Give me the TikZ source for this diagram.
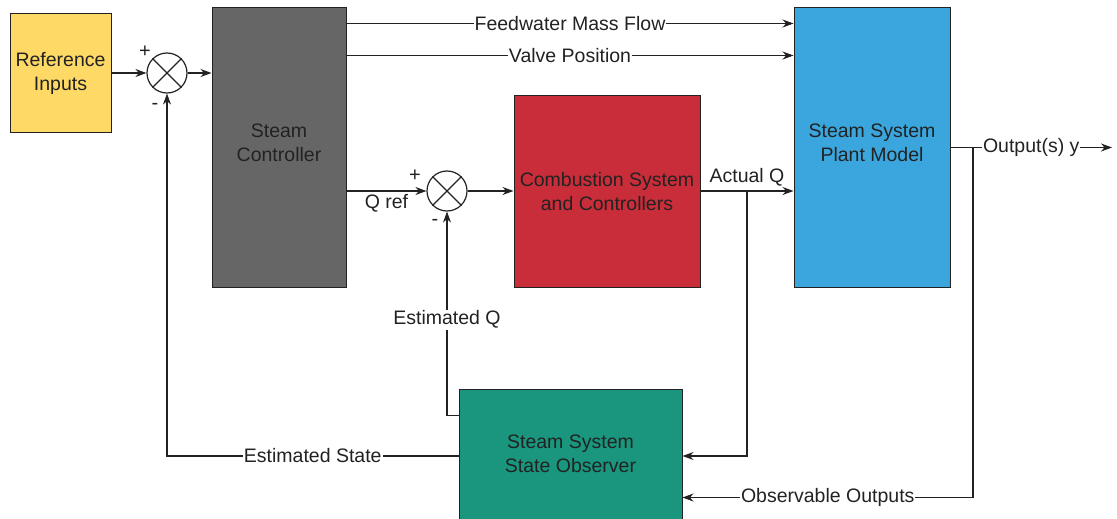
\documentclass[tikz,border=0pt]{standalone}
\usepackage{fontspec}
\setmainfont{Liberation Sans}
\usepackage{tikz}
\usetikzlibrary{calc,positioning,arrows.meta}
\definecolor{refyellow}{HTML}{FFD966}
\definecolor{ctrlgray}{HTML}{666666}
\definecolor{combred}{HTML}{C92D39}
\definecolor{plantblue}{HTML}{3AA6DD}
\definecolor{obsgreen}{HTML}{19967D}
\definecolor{inkgray}{HTML}{222222}

\begin{document}
\begin{tikzpicture}[x=1pt, y=-1pt,
  block/.style={draw=inkgray, fill=#1, text=inkgray, line width=1pt, inner sep=0pt, align=center, font=\fontsize{19.5}{24}\selectfont},
  sumjunc/.style={draw=inkgray, circle, line width=1.2pt, minimum size=40pt, inner sep=0pt},
  arrow/.style={-{Stealth[length=11pt,width=8pt]}, inkgray, line width=1.1pt},
  wire/.style={inkgray, line width=1.1pt},
  lbl/.style={fill=white, text=inkgray, inner sep=1pt, font=\fontsize{19.5}{24}\selectfont},
  sign/.style={text=inkgray, inner sep=0pt, font=\fontsize{20}{22}\selectfont}
]
  \useasboundingbox (0,0) rectangle (1117,519);

  \node[block=refyellow, minimum width=101pt, minimum height=118pt] (ref) at (60.5,73) {Reference\\Inputs};
  \node[sumjunc] (sum1) at (167,73) {};
  \node[block=ctrlgray, minimum width=134pt, minimum height=279pt] (ctrl) at (279,147.5) {Steam\\Controller\\[-15pt]};
  \node[block=plantblue, minimum width=156pt, minimum height=279pt] (plant) at (872,147.5) {Steam System\\Plant Model\\[-15pt]};
  \node[sumjunc] (sum2) at (447,191) {};
  \node[block=combred, minimum width=186pt, minimum height=191pt] (comb) at (607,191.5) {Combustion System\\and Controllers};
  \node[block=obsgreen, minimum width=223pt, minimum height=130pt] (obs) at (570.5,454) {Steam System\\State Observer};

  % crosses in the summing junctions
  \draw[wire] (sum1.north west) -- (sum1.south east) (sum1.north east) -- (sum1.south west);
  \draw[wire] (sum2.north west) -- (sum2.south east) (sum2.north east) -- (sum2.south west);
  \node[sign] (sum1p) at (145,52) {+};
  \node[sign] (sum1m) at (155,106) {-};
  \node[sign] (sum2p) at (415,176) {+};
  \node[sign] (sum2m) at (435,222) {-};

  \coordinate (out) at (1112,147.5);
  \coordinate (ybr) at (973,147.5);

  \draw[arrow] (ref) -- (sum1);
  \draw[arrow] (sum1) -- (sum1 -| ctrl.west);
  \draw[arrow] ($(ctrl.north east)+(0,16)$) -- node[lbl]{Feedwater Mass Flow} ($(plant.north west)+(0,16)$);
  \draw[arrow] ($(ctrl.north east)+(0,48)$) -- node[lbl]{Valve Position} ($(plant.north west)+(0,48)$);
  \draw[arrow] (ctrl.east |- sum2) -- node[below, text=inkgray, inner sep=3pt, font=\fontsize{19.5}{24}\selectfont]{Q ref} (sum2);
  \draw[arrow] (sum2) -- (sum2 -| comb.west);
  \draw[arrow] (comb.east |- sum2) -- node[above, text=inkgray, inner sep=4pt, font=\fontsize{19.5}{24}\selectfont]{Actual Q} coordinate (qbr) (plant.west |- sum2);
  \draw[arrow] (qbr) |- ($(obs.east)+(0,2)$);
  \draw[arrow] (plant.east) -- node[lbl]{Output(s) y} (out);
  \draw[arrow] (ybr) |- node[lbl, pos=0.75]{Observable Outputs} ($(obs.south east)+(0,-22)$);
  \draw[arrow] ($(obs.north west)+(0,27)$) -| node[lbl, pos=0.735]{Estimated Q} (sum2);
  \draw[arrow] ($(obs.west)+(0,2)$) -| node[lbl, pos=0.25]{Estimated State} (sum1);
\end{tikzpicture}
\end{document}
